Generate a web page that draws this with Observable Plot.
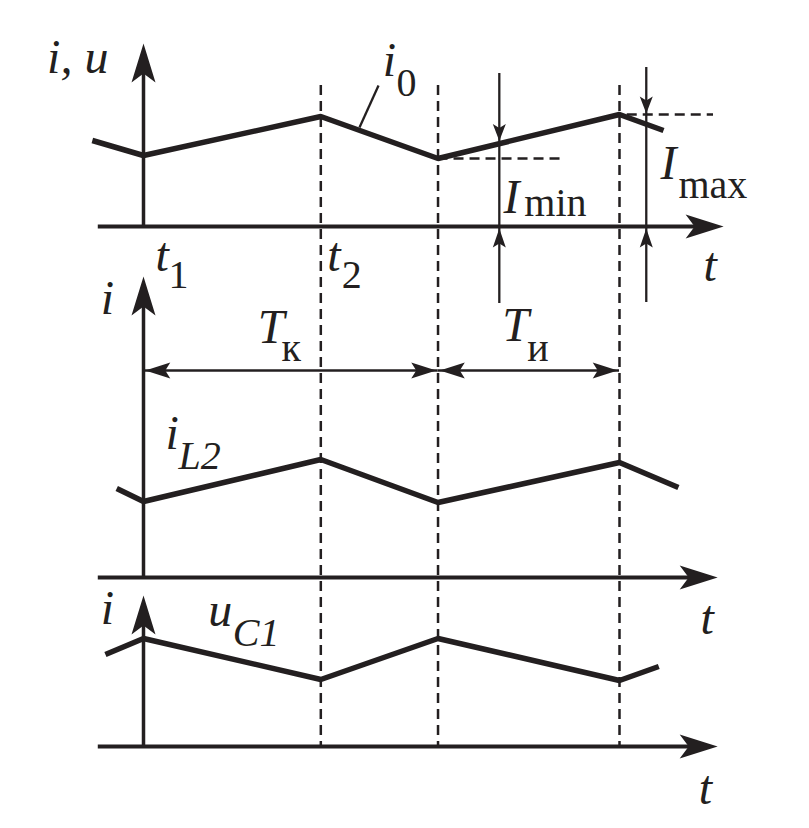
<!DOCTYPE html>
<html><head><meta charset="utf-8">
<script src="https://cdn.jsdelivr.net/npm/d3@7"></script>
<script src="https://cdn.jsdelivr.net/npm/@observablehq/plot@0.6"></script>
<style>body{margin:0;background:#fff} svg{display:block;background:#fff}</style>
</head><body><div id="chart"></div>
<script>
// ---- data (time in arbitrary units, t1 = 0; values relative to each panel's t-axis) ----
const switchTimes = [0, 2.98, 4.95, 8];            // t1, t2, t3, t4
const i0Time  = [-0.86, 0, 2.98, 4.95, 8, 8.74];
const i0Value = [8.6, 7.1, 11.0, 6.8, 11.2, 9.6];
const iL2Time  = [-0.45, 0, 2.98, 4.95, 8, 8.99];
const iL2Value = [8.9, 7.6, 11.8, 7.5, 11.5, 9.0];
const uC1Time  = [-0.64, 0, 2.98, 4.95, 8, 8.66];
const uC1Value = [9.2, 10.8, 6.7, 10.8, 6.6, 8.0];
const Imin = 6.8, Imax = 11.2;
const iminAt = 5.98, imaxAt = 8.45;             // where the I_min / I_max dimension lines stand

// italic labels and upright subscripts
const italicLabels = [
  {text: "i, u", p: "top", t: -1.62, v: 15.4},
  {text: "i", p: "mid", t: -0.72, v: 26.4},
  {text: "i", p: "bot", t: -0.72, v: 12.3},
  {text: "i", p: "top", t: 4.02, v: 15.1},
  {text: "t", p: "top", t: 0.20, v: -4.4},
  {text: "t", p: "top", t: 3.09, v: -4.4},
  {text: "t", p: "top", t: 9.41, v: -5.4},
  {text: "t", p: "mid", t: 9.36, v: -5.6},
  {text: "t", p: "bot", t: 9.33, v: -5.7},
  {text: "I", p: "top", t: 6.05, v: 1.4},
  {text: "I", p: "top", t: 8.69, v: 4.8},
  {text: "T", p: "mid", t: 1.92, v: 23.5},
  {text: "T", p: "mid", t: 6.03, v: 23.7},
  {text: "i", p: "mid", t: 0.37, v: 12.9},
  {text: "u", p: "bot", t: 1.09, v: 12.1}
];
const italicSubs = [
  {text: "L2", p: "mid", t: 0.59, v: 10.9},
  {text: "C1", p: "bot", t: 1.50, v: 10.1}
];
const uprightSubs = [
  {text: "0", p: "top", t: 4.25, v: 13.1},
  {text: "1", p: "top", t: 0.42, v: -6.1},
  {text: "2", p: "top", t: 3.33, v: -6.1},
  {text: "min", p: "top", t: 6.40, v: 1.1},
  {text: "max", p: "top", t: 8.99, v: 2.9},
  {text: "к", p: "mid", t: 2.32, v: 21.7},
  {text: "и", p: "mid", t: 6.45, v: 21.7}
];

// ---- layout ----
const INK = "#231f20";
const base = {top: 60.2, mid: 25.1, bot: 8.2};   // level of each panel's t-axis
const Y = (p, v) => base[p] + v;
const axes = [
  {p: "top", tip: 18.3, xEnd: 9.75},
  {p: "mid", tip: 30.1, xEnd: 9.65},
  {p: "bot", tip: 15.1, xEnd: 9.65}
];
const head = (hw, notch) => ({
  draw(ctx, l) {
    ctx.moveTo(0, -l);
    ctx.lineTo(hw, 0);
    ctx.lineTo(0, -notch);
    ctx.lineTo(-hw, 0);
    ctx.closePath();
  }
});
const bigHead = head(12, 9), smallHead = head(6.5, 4), midHead = head(8, 5);

const curves = [
  ...i0Time.map((t, i) => ({p: "top", t, v: i0Value[i]})),
  ...iL2Time.map((t, i) => ({p: "mid", t, v: iL2Value[i]})),
  ...uC1Time.map((t, i) => ({p: "bot", t, v: uC1Value[i]}))
];
const TY = Y("mid", 20.7);
const font = "'Liberation Serif', 'Times New Roman', serif";

const chart = Plot.plot({
  width: 809, height: 828,
  marginTop: 0, marginBottom: 0, marginLeft: 0, marginRight: 0,
  x: {domain: [0, 8], range: [143, 619], axis: null},
  y: {domain: [0, 82.8], axis: null},
  style: {background: "#fff", color: INK},
  marks: [
    // dashed switching instants
    Plot.ruleX(switchTimes.slice(1), {x: d => d, y1: 74.3, y2: 8.3, stroke: INK, strokeWidth: 2.5, strokeDasharray: "10,6"}),
    // dashed I_min / I_max levels
    Plot.ruleY([{y: Imin, x1: switchTimes[2], x2: 7.06}, {y: Imax, x1: 8.13, x2: 9.58}],
      {y: d => Y("top", d.y), x1: "x1", x2: "x2", stroke: INK, strokeWidth: 2.4, strokeDasharray: "10,6"}),
    // axes
    Plot.ruleY(axes, {y: d => base[d.p], x1: -0.76, x2: d => d.xEnd - 0.3, stroke: INK, strokeWidth: 3.8}),
    Plot.ruleX(axes, {x: 0, y1: d => base[d.p], y2: d => base[d.p] + d.tip - 2, stroke: INK, strokeWidth: 3.5}),
    Plot.vector(axes, {x: d => d.xEnd, y: d => base[d.p], rotate: 90, length: 38, anchor: "end", shape: bigHead, fill: INK, stroke: "none"}),
    Plot.vector(axes, {x: 0, y: d => base[d.p] + d.tip, rotate: 0, length: 39, anchor: "end", shape: bigHead, fill: INK, stroke: "none"}),
    // dimension lines
    Plot.ruleX([{t: iminAt, y1: 15.3, y2: -7.7}, {t: imaxAt, y1: 15.9, y2: -7.6}],
      {x: "t", y1: d => Y("top", d.y1), y2: d => Y("top", d.y2), stroke: INK, strokeWidth: 2.3}),
    Plot.vector([{t: iminAt, v: 8.55}, {t: imaxAt, v: Imax + 0.1}],
      {x: "t", y: d => Y("top", d.v), rotate: 180, length: 17, anchor: "end", shape: smallHead, fill: INK, stroke: "none"}),
    Plot.vector([{t: iminAt}, {t: imaxAt}],
      {x: "t", y: Y("top", -0.2), rotate: 0, length: 19, anchor: "end", shape: smallHead, fill: INK, stroke: "none"}),
    // period arrows
    Plot.ruleY([{x1: switchTimes[0], x2: switchTimes[2]}, {x1: switchTimes[2], x2: switchTimes[3]}],
      {y: TY, x1: "x1", x2: "x2", stroke: INK, strokeWidth: 2.3}),
    Plot.vector([{t: switchTimes[0] + 0.03, r: 270}, {t: switchTimes[2] - 0.03, r: 90}, {t: switchTimes[2] + 0.03, r: 270}, {t: switchTimes[3] - 0.03, r: 90}],
      {x: "t", y: TY, rotate: "r", length: 25, anchor: "end", shape: midHead, fill: INK, stroke: "none"}),
    // i0 leader
    Plot.link([{x1: 3.63, y1: 9.9, x2: 3.95, y2: 14.1}],
      {x1: "x1", x2: "x2", y1: d => Y("top", d.y1), y2: d => Y("top", d.y2), stroke: INK, strokeWidth: 2.3}),
    // waveforms
    Plot.line(curves, {x: "t", y: d => Y(d.p, d.v), z: "p", stroke: INK, strokeWidth: 5.5, strokeLinejoin: "miter", strokeLinecap: "butt"}),
    // labels
    Plot.text(italicLabels, {x: "t", y: d => Y(d.p, d.v), text: "text", textAnchor: "start", lineAnchor: "bottom",
      fontSize: 48, fontStyle: "italic", fontFamily: font, fill: INK}),
    Plot.text(italicSubs, {x: "t", y: d => Y(d.p, d.v), text: "text", textAnchor: "start", lineAnchor: "bottom",
      fontSize: 40, fontStyle: "italic", fontFamily: font, fill: INK}),
    Plot.text(uprightSubs, {x: "t", y: d => Y(d.p, d.v), text: "text", textAnchor: "start", lineAnchor: "bottom",
      fontSize: 40, fontFamily: font, fill: INK})
  ]
});
document.getElementById("chart").append(chart);
</script>
</body></html>
